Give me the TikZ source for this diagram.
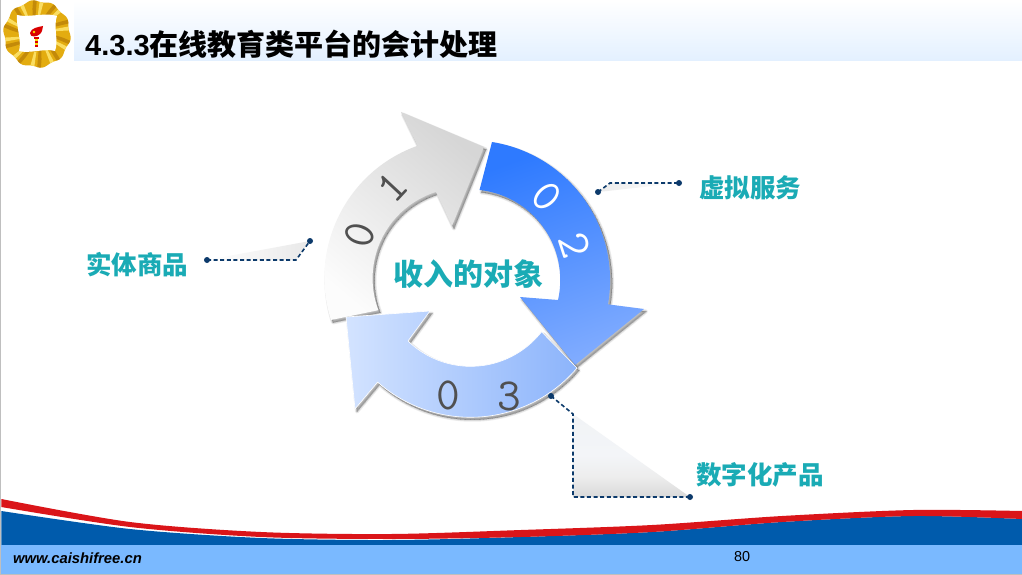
\documentclass[tikz,border=0pt]{standalone}
\usepackage{fontspec}
\setmainfont{Liberation Sans}
\newfontfamily\cjk{Noto Sans CJK SC}
\usetikzlibrary{calc}
\definecolor{teal1}{HTML}{1AABB5}
\definecolor{leader}{HTML}{0C3A6B}
\definecolor{wavered}{HTML}{DA1519}
\definecolor{waveblue}{HTML}{005BAC}
\definecolor{footblue}{HTML}{7AB9FF}
\definecolor{numgray}{HTML}{505050}
\definecolor{blueA}{HTML}{2E7AFF}
\definecolor{blueB}{HTML}{7FABFF}
\definecolor{blueC}{HTML}{70A3FF}
\definecolor{paleA}{HTML}{D3E3FF}
\definecolor{paleB}{HTML}{CDDFFF}
\definecolor{paleC}{HTML}{8CB4FB}
\definecolor{bandtop}{HTML}{E3F0FF}
\definecolor{goldA}{HTML}{E3AC10}
\definecolor{goldD}{HTML}{A96F05}
\definecolor{goldL}{HTML}{FFE670}
\definecolor{wedgeA}{HTML}{F3F5F8}
\definecolor{wedgeB}{HTML}{F1F3F5}
\pgfdeclareverticalshading{wedgefade}{100bp}{color(0bp)=(black!15); color(25bp)=(black!15); color(37bp)=(black!7); color(50bp)=(wedgeA); color(75bp)=(wedgeB); color(100bp)=(wedgeB)}
\newcommand{\ArrowOne}{(331,320) arc[start angle=162.4,end angle=250.4,radius=140] -- (401,112) -- (484,147) -- (452,226) -- (436,192) arc[start angle=252.6,end angle=159.4,radius=90.5] -- cycle}
\newcommand{\ArrowTwo}{(492,142) arc[start angle=279,end angle=369.9,radius=140] -- (644,309) -- (575,365) -- (520,297) -- (558,300) arc[start angle=12.8,end angle=-83.8,radius=90.5] -- cycle}
\newcommand{\ArrowThree}{(577,368) arc[start angle=40.4,end angle=131.5,radius=140] -- (355,409) -- (346,317) -- (430,311) -- (408,341) arc[start angle=134.1,end angle=38,radius=90] -- cycle}
\newcommand{\SoftShadow}[1]{%
  \foreach \w in {4,2.5,1,0}{\path[fill=black,draw=black,fill opacity=.07,draw opacity=.07,line width=\w pt,line join=round,shift={(2,2.5)}] #1;}}
\tikzset{
  x=1pt,y=-1pt,
  leaderline/.style={draw=leader,line width=1.6pt,dash pattern=on 4pt off 2.6pt,line join=miter},
  leaderdot/.style={fill=leader},
  ringtext/.style={font=\ttfamily\fontsize{46}{46}\selectfont,inner sep=0pt},
  labeltext/.style={font=\cjk\bfseries\fontsize{25.5}{26}\selectfont,text=teal1,inner sep=0pt,anchor=west},
}
\begin{document}
\begin{tikzpicture}
\useasboundingbox (0,0) rectangle (1022,575);
\fill[white] (0,0) rectangle (1022,575);
% title band
\shade[top color=white,bottom color=bandtop] (74,0) rectangle (1022,61);
\fill[gray!50] (0,0) rectangle (1.3,575);
% logo
\begin{scope}[shift={(37,34)}]
  \begin{scope}
  \clip plot[domain=0:360,samples=120,smooth] ({(33+1*sin(10*\x))*cos(\x)},{(33+1*sin(10*\x))*sin(\x)}) -- cycle;
  \fill[goldA] (-36,-36) rectangle (36,36);
  \foreach \a in {0,36,...,324}{
    \fill[goldD,opacity=.55] (\a+2:16) -- (\a+8:26) -- (\a+12:36) -- (\a+18:36) -- (\a+12:16) -- cycle;
    \fill[goldL,opacity=.85] (\a+20:18) -- (\a+23:36) -- (\a+30:36) -- (\a+27:18) -- cycle;
  }
  \end{scope}
  \fill[white] (-20,-19) .. controls (-8,-16) and (8,-22) .. (20,-18) .. controls (16,-7) and (22,7) .. (18,17) .. controls (8,14) and (-8,20) .. (-18,17) .. controls (-15,7) and (-21,-7) .. (-20,-19) -- cycle;
  \fill[red!85!black] (-7,-1) .. controls (-6,-6) and (1,-7) .. (6,-8) .. controls (5,-5) and (6,-3) .. (3,0) .. controls (0,3) and (-7,4) .. (-7,-1) -- cycle;
  \fill[yellow!80!orange] (-3,-2) circle (1.3);
  \fill[red!85!black] (-3,3.5) rectangle (1.5,5);
  \fill[yellow!80!orange] (-2.5,5) rectangle (1,7);
  \fill[red!85!black] (-2.5,7) rectangle (1,9);
  \fill[yellow!80!orange] (-2.5,9) rectangle (1,11);
  \fill[red!85!black] (-2.5,11) rectangle (1,13);
\end{scope}
\node[anchor=west,inner sep=0pt,font=\bfseries\fontsize{29}{30}\selectfont] (title) at (85,44) {4.3.3{\cjk 在线教育类平台的会计处理}};
% footer
\fill[waveblue] (1.3,545) -- (1.3,511) -- plot[smooth] coordinates {(1.3,511) (130,529) (261,538) (391,540) (521,537) (652,532) (782,522) (913,516) (1022,519)} -- (1022,545) -- cycle;
\fill[wavered] (1.3,499) -- plot[smooth] coordinates {(1.3,499) (130,522) (261,532) (391,534) (521,530) (652,525) (782,516) (913,510) (1022,511)} -- (1022,519) -- plot[smooth] coordinates {(1022,519) (913,516) (782,522) (652,532) (521,537) (391,539) (261,537) (130,527) (1.3,507)} -- cycle;
\fill[footblue] (1.3,545) rectangle (1022,574);
\fill[gray!50] (0,574) rectangle (1022,575);
\node[anchor=west,inner sep=0pt,font=\bfseries\itshape\fontsize{14.8}{15}\selectfont] (site) at (13,558) {www.caishifree.cn};
\node[inner sep=0pt,font=\fontsize{14.4}{15}\selectfont] (page) at (742,557) {80};
% leader coordinates
\coordinate (la) at (207,260); \coordinate (lb) at (296,260); \coordinate (lc) at (310,241);
\coordinate (ra) at (598,192); \coordinate (rb) at (610,183); \coordinate (rc) at (679,183);
\coordinate (da) at (551,396); \coordinate (db) at (573,414); \coordinate (dc) at (573,497); \coordinate (dd) at (690,497);
% leader wedges
\shade[left color=white,right color=black!9] (la) -- (lb) -- (lc) -- cycle;
\shade[left color=black!8,right color=white] (ra) -- (rb) -- (rc) -- cycle;
\shade[shading=wedgefade] (db) -- (dc) -- (dd) -- cycle;
% ring arrows
\SoftShadow{\ArrowOne}
\shade[top color=black!16,bottom color=black!1,shading angle=-40] \ArrowOne;
\SoftShadow{\ArrowTwo}
\shade[top color=blueA,middle color=blueC,bottom color=blueB,shading angle=20] \ArrowTwo;
\SoftShadow{\ArrowThree}
\shade[left color=paleA,middle color=paleB,right color=paleC] \ArrowThree;
\draw[white,line width=.6pt,line join=round] \ArrowThree;
% leader lines
\draw[leaderline] (la) -- (lb) -- (lc);
\draw[leaderline] (ra) -- (rb) -- (rc);
\draw[leaderline] (da) -- (db) -- (dc) -- (dd);
\foreach \p in {la,lc,ra,rc,da,dd}{\fill[leaderdot] (\p) circle (3);}
% ring digits
\node[ringtext,text=numgray,rotate=72] (n01a) at (360,235) {0};
\node[ringtext,text=numgray,rotate=47] (n01b) at (392,187) {1};
\node[ringtext,text=white,rotate=-47] (n02a) at (547,197) {0};
\node[ringtext,text=white,rotate=-72] (n02b) at (575,245) {2};
\node[ringtext,text=numgray] (n03a) at (448,395) {0};
\node[ringtext,text=numgray] (n03b) at (509,396) {3};
% labels
\node[labeltext,font=\cjk\bfseries\fontsize{30}{31}\selectfont] (centre) at (393,274) {收入的对象};
\node[labeltext] (lbla) at (86,265) {实体商品};
\node[labeltext] (lblb) at (699,188) {虚拟服务};
\node[labeltext] (lblc) at (696,475) {数字化产品};
\end{tikzpicture}
\end{document}
